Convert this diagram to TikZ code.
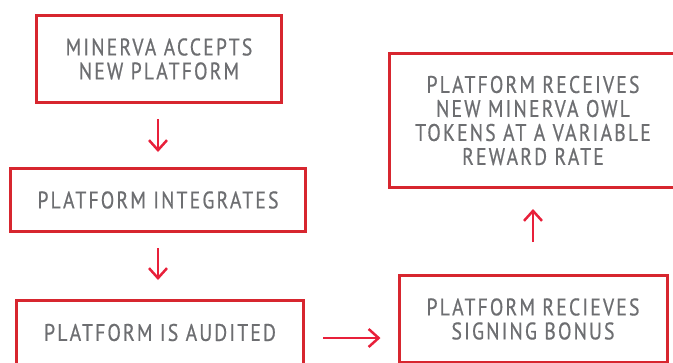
\documentclass[tikz,border=0pt]{standalone}
\usepackage{fontspec}
\setmainfont[FakeStretch=0.82, LetterSpace=9, FakeBold=0.6]{PT Sans}
\usetikzlibrary{arrows.meta,calc}
\definecolor{boxred}{HTML}{D7262F}
\definecolor{arrred}{HTML}{E8203A}
\definecolor{txtgray}{HTML}{6D6E71}
\begin{document}
\begin{tikzpicture}[x=1pt,y=-1pt,
  box/.style={draw=boxred, line width=3pt, rectangle, inner sep=0pt, align=center,
    text=txtgray, font=\fontsize{24}{24}\selectfont},
  arr/.style={draw=arrred, line width=2.5pt, -{Straight Barb[length=10pt,width=18pt,line width=2.5pt]}}]
\useasboundingbox (0,0) rectangle (673,362);
\clip (0,0) rectangle (673,362);
\node[box, minimum width=245pt, minimum height=87pt] (A) at (159,59) {MINERVA ACCEPTS\\NEW PLATFORM};
\node[box, minimum width=295pt, minimum height=63pt] (B) at (158,200) {PLATFORM INTEGRATES};
\node[box, minimum width=287pt, minimum height=64pt] (C) at (160,332.5) {PLATFORM IS AUDITED};
\node[box, minimum width=268pt, minimum height=87pt] (D) at (533,319) {PLATFORM RECIEVES\\SIGNING BONUS};
\node[box, minimum width=287pt, minimum height=134pt] (E) at (533,120.5) {PLATFORM RECEIVES\\NEW MINERVA OWL\\TOKENS AT A VARIABLE\\REWARD RATE};
\draw[arr, shorten <=15pt, shorten >=15pt] (A.south -| B.north) -- (B.north);
\draw[arr, shorten <=15pt, shorten >=19pt] (B.south) -- (C.north -| B.south);
\coordinate (cy) at (0,338);
\draw[arr, shorten <=18pt, shorten >=17pt] (C.east |- cy) -- (D.west |- cy);
\draw[arr, shorten <=32pt, shorten >=20pt] (D.north) -- (E.south);
\end{tikzpicture}
\end{document}
